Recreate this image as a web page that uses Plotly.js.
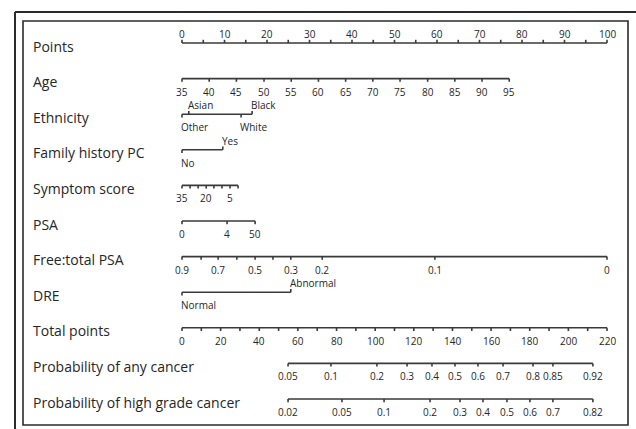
<!DOCTYPE html>
<html>
<head>
<meta charset="utf-8">
<script src="https://cdn.plot.ly/plotly-3.0.1.min.js"></script>
<style>html,body{margin:0;padding:0;background:#fff;}#chart{width:636px;height:429px;}</style>
</head>
<body>
<div id="chart"></div>
<script>
// ---------- DATA ----------
const rowNames = ["Points","Age","Ethnicity","Family history PC","Symptom score","PSA",
  "Free:total PSA","DRE","Total points","Probability of any cancer","Probability of high grade cancer"];

const pointsLabeled = [0,10,20,30,40,50,60,70,80,90,100];
const pointsMinor = [5,15,25,35,45,55,65,75,85,95];

const ageValues = [35,40,45,50,55,60,65,70,75,80,85,90,95];
const agePoints = [0,6.4,12.8,19.3,25.7,32.1,38.5,44.9,51.3,57.8,64.2,70.6,77.0];

const ethnicityLevels = ["Other","Asian","White","Black"];
const ethnicityPoints = [0,1.6,13.9,16.5];

const familyLevels = ["No","Yes"];
const familyPoints = [0,9.6];

const symptomValues = [35,30,25,20,15,10,5,0];
const symptomPoints = [0,1.9,3.8,5.7,7.5,9.4,11.3,13.2];
const symptomLabeled = [35,20,5];

const psaValues = [0,4,50];
const psaPoints = [0,10.6,17.2];

const ftValues = [0.9,0.8,0.7,0.6,0.5,0.4,0.3,0.2,0.1,0];
const ftPoints = [0,4.5,8.5,12.9,17.2,21.4,25.6,33.0,59.5,100];
const ftLabeled = [0.9,0.7,0.5,0.3,0.2,0.1,0];

const dreLevels = ["Normal","Abnormal"];
const drePoints = [0,25.6];

const totalTicks = [0,10,20,30,40,50,60,70,80,90,100,110,120,130,140,150,160,170,180,190,200,210,220];
const totalLabeled = [0,20,40,60,80,100,120,140,160,180,200,220];
const totalMax = 220;

const probAnyLabels = ["0.05","0.1","0.2","0.3","0.4","0.5","0.6","0.7","0.8","0.85","0.92"];
const probAnyTotal = [54.9,77.1,100.9,116.5,129.4,141.3,153.2,166.2,181.7,192.0,212.7];

const probHighLabels = ["0.02","0.05","0.1","0.2","0.3","0.4","0.5","0.6","0.7","0.82"];
const probHighTotal = [54.9,82.8,104.6,128.4,143.9,155.8,168.2,180.1,192.0,212.7];

// ---------- LAYOUT / STYLE CONFIG ----------
const W = 636, H = 429;
const ethnicitySide = ["below","above","below","above"];
const familySide = ["below","above"];
const dreSide = ["below","above"];
const TICK = 0.09;          // tick length in row units
const LINE_COLOR = "#3a3a3a";
const TEXT_COLOR = "#262626";
const FONT = "Open Sans, Arial, sans-serif";
const TICK_FONT = 10, TITLE_FONT = 14;

const traces = [];
const annotations = [];

function addAxis(row, pts, side) {
  const xs = [], ys = [];
  const lo = Math.min(...pts), hi = Math.max(...pts);
  xs.push(lo, hi, null); ys.push(row, row, null);
  pts.forEach((p, i) => {
    const s = Array.isArray(side) ? side[i] : side;
    const dy = s === "above" ? -TICK : TICK;
    xs.push(p, p, null); ys.push(row, row + dy, null);
  });
  traces.push({x: xs, y: ys, mode: "lines", line: {color: LINE_COLOR, width: 1.6},
               hoverinfo: "skip", type: "scatter"});
}
function addLabel(row, x, text, side, align) {
  annotations.push({
    x: x, y: row, xref: "x", yref: "y", text: String(text), showarrow: false,
    xanchor: align === "left" ? "left" : "center", yanchor: "middle",
    xshift: align === "left" ? -3 : 0,
    yshift: side === "above" ? 9 : -13,
    font: {family: FONT, size: TICK_FONT, color: TEXT_COLOR}
  });
}

// Row 0: Points
addAxis(0, pointsLabeled.concat(pointsMinor), "above");
pointsLabeled.forEach(v => addLabel(0, v, v, "above"));

// Row 1: Age
addAxis(1, agePoints, "below");
ageValues.forEach((v, i) => addLabel(1, agePoints[i], v, "below"));

// Row 2: Ethnicity
addAxis(2, ethnicityPoints, ethnicitySide);
ethnicityLevels.forEach((v, i) => addLabel(2, ethnicityPoints[i], v, ethnicitySide[i], "left"));

// Row 3: Family history
addAxis(3, familyPoints, familySide);
familyLevels.forEach((v, i) => addLabel(3, familyPoints[i], v, familySide[i], "left"));

// Row 4: Symptom score
addAxis(4, symptomPoints, "below");
symptomValues.forEach((v, i) => { if (symptomLabeled.includes(v)) addLabel(4, symptomPoints[i], v, "below"); });

// Row 5: PSA
addAxis(5, psaPoints, "below");
psaValues.forEach((v, i) => addLabel(5, psaPoints[i], v, "below"));

// Row 6: Free:total PSA
addAxis(6, ftPoints, "below");
ftValues.forEach((v, i) => { if (ftLabeled.includes(v)) addLabel(6, ftPoints[i], v, "below"); });

// Row 7: DRE
addAxis(7, drePoints, dreSide);
dreLevels.forEach((v, i) => addLabel(7, drePoints[i], v, dreSide[i], "left"));

// Row 8: Total points (mapped onto the 0-100 points scale)
const tp = v => v * 100 / totalMax;
addAxis(8, totalTicks.map(tp), "below");
totalLabeled.forEach(v => addLabel(8, tp(v), v, "below"));

// Row 9: Probability of any cancer
addAxis(9, probAnyTotal.map(tp), "below");
probAnyLabels.forEach((v, i) => addLabel(9, tp(probAnyTotal[i]), v, "below"));

// Row 10: Probability of high grade cancer
addAxis(10, probHighTotal.map(tp), "below");
probHighLabels.forEach((v, i) => addLabel(10, tp(probHighTotal[i]), v, "below"));

// Row titles
rowNames.forEach((name, r) => {
  annotations.push({
    x: 31 / W, xref: "paper", y: r, yref: "y", text: name, showarrow: false,
    xanchor: "left", yanchor: "middle", yshift: -3,
    font: {family: FONT, size: TITLE_FONT, color: TEXT_COLOR}
  });
});

// Frame shapes (scan borders)
const py = p => 1 - p / H, px = p => p / W;
const shapes = [
  {type: "line", xref: "paper", yref: "paper", x0: px(15), x1: 1, y0: py(12), y1: py(12),
   line: {color: "#2b2b2b", width: 2}},
  {type: "line", xref: "paper", yref: "paper", x0: px(15), x1: px(15), y0: py(12), y1: 0,
   line: {color: "#2b2b2b", width: 2}},
  {type: "rect", xref: "paper", yref: "paper", x0: px(23), x1: px(628), y0: py(425), y1: py(21),
   line: {color: "#2b2b2b", width: 1.6}}
];

// px 182 -> 0 points, px 607 -> 100 points ; row r at px 43 + 35.6 r
const ppp = (607 - 182) / 100;
const layout = {
  width: W, height: H, margin: {l: 0, r: 0, t: 0, b: 0, pad: 0},
  paper_bgcolor: "#fff", plot_bgcolor: "#fff", showlegend: false,
  xaxis: {range: [-182 / ppp, (W - 182) / ppp], visible: false, fixedrange: true},
  yaxis: {range: [(H - 43) / 35.6, -43 / 35.6], visible: false, fixedrange: true},
  annotations: annotations, shapes: shapes
};
Plotly.newPlot("chart", traces, layout, {staticPlot: true, displayModeBar: false});
</script>
</body>
</html>
